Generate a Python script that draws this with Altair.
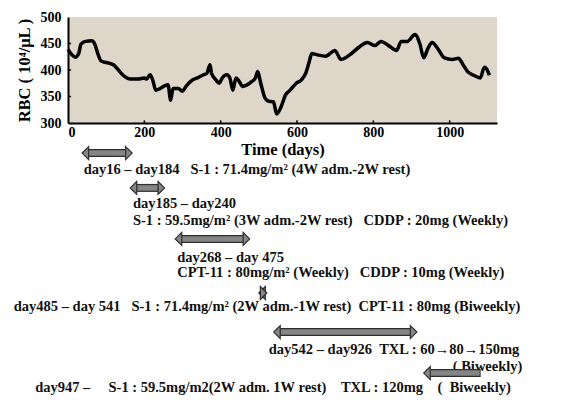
import altair as alt
import pandas as pd

# ---- RBC time series ----
days = [0, 10, 19, 28, 34, 46, 62, 70, 79, 87, 107, 119, 131, 143, 164, 184, 200, 206,
        215, 222, 230, 241, 253, 262, 269, 275, 289, 300, 309, 326, 339, 355, 364, 372,
        376, 388, 396, 404, 416, 424, 432, 440, 449, 457, 469, 481, 491, 497, 505, 517,
        526, 538, 547, 558, 570, 582, 598, 611, 623, 631, 639, 651, 675, 683, 699, 715,
        739, 764, 784, 804, 820, 840, 861, 873, 889, 909, 922, 932, 942, 954, 970, 986,
        1007, 1023, 1035, 1047, 1063, 1080, 1091, 1097, 1104]
rbc = [439, 429, 424, 431, 449, 454, 455, 449, 429, 417, 413, 410, 401, 391, 383, 383, 385, 383,
       391, 381, 362, 365, 370, 372, 343, 365, 365, 360, 369, 381, 385, 391, 394, 410,
       394, 381, 375, 385, 391, 385, 362, 385, 378, 369, 372, 378, 385, 397, 375, 346,
       341, 340, 317, 330, 353, 362, 375, 381, 394, 413, 431, 429, 426, 429, 437, 420,
       429, 444, 452, 446, 454, 446, 437, 454, 454, 467, 449, 423, 439, 452, 439, 423,
       420, 422, 410, 397, 390, 385, 405, 402, 390]

x_ticks = [0, 200, 400, 600, 800, 1000]
y_ticks = [300, 350, 400, 450, 500]
x_inner_ticks = [200, 400, 600, 800, 1000]
y_inner_ticks = [350, 400, 450]

NB = "\u00a0"
# ---- treatment annotations ----
ann_label = [
    "day16 \u2013 day184" + NB * 3 + "S-1 : 71.4mg/m\u00b2 (4W adm.-2W rest)",
    "day185 \u2013 day240",
    "S-1 : 59.5mg/m\u00b2 (3W adm.-2W rest)" + NB * 3 + "CDDP : 20mg (Weekly)",
    "day268 \u2013 day 475",
    "CPT-11 : 80mg/m\u00b2 (Weekly)" + NB * 3 + "CDDP : 10mg (Weekly)",
    "day485 \u2013 day 541" + NB * 3 + "S-1 : 71.4mg/m\u00b2 (2W adm.-1W rest)" + NB * 2 + "CPT-11 : 80mg (Biweekly)",
    "day542 \u2013 day926" + NB * 2 + "TXL : 60\u219280\u2192150mg",
    "( Biweekly)",
    "day947 \u2013" + NB * 5 + "S-1 : 59.5mg/m2(2W adm. 1W rest)" + NB * 4 + "TXL : 120mg" + NB * 4
    + "(" + NB * 2 + "Biweekly)",
]
ann_day = [41, 170, 170, 286, 286, -142, 526, 1008, -86]
ann_row = [1.71, 3.71, 4.71, 6.88, 7.76, 9.76, 12.29, 13.29, 14.53]

arrow_start = [37, 163, 281, 500, 539, 932]
arrow_end = [168, 253, 476, 521, 914, 1089]
arrow_row = [0.71, 2.76, 5.76, 8.94, 11.24, 13.65]
arrow_right_head = [True, True, True, True, True, False]

FONT = "Liberation Serif"
BEIGE = "#DDD6C9"
GRAY = "#858585"
DARK = "#2e2e2e"

line_df = pd.DataFrame({"day": days, "rbc": rbc})
xt_df = pd.DataFrame({"day": x_inner_ticks})
yt_df = pd.DataFrame({"rbc": y_inner_ticks})
text_df = pd.DataFrame({"day": ann_day, "row": ann_row, "label": ann_label})
arr_df = pd.DataFrame({"start": arrow_start, "end": arrow_end, "row": arrow_row,
                       "right": arrow_right_head})

x_dom = [0, 1124]
xs = alt.Scale(domain=x_dom, nice=False, zero=False)
ys = alt.Scale(domain=[300, 500], nice=False, zero=False)
x_axis = alt.Axis(values=x_ticks, tickCount=6, title="Time (days)", format="d",
                  labelPadding=2, titlePadding=2, labelOverlap=False, labelSeparation=0)
y_axis = alt.Axis(values=y_ticks, tickCount=5, title="RBC ( 10\u2074/\u03bcL )",
                  labelPadding=7, titlePadding=8, labelOverlap=False, labelSeparation=0)
X = alt.X("day:Q", scale=xs, axis=x_axis)
Y = alt.Y("rbc:Q", scale=ys, axis=y_axis)

line = alt.Chart(line_df).mark_line(
    color="black", strokeWidth=3.5, interpolate="monotone", strokeJoin="round"
).encode(x=X, y=Y)
xt = alt.Chart(xt_df).mark_rule(color="black", strokeWidth=1.5).encode(
    x=X, y=alt.datum(300), y2=alt.datum(305))
yt = alt.Chart(yt_df).mark_rule(color="black", strokeWidth=1.5).encode(
    y=Y, x=alt.datum(0), x2=alt.datum(8))

top = alt.layer(line, xt, yt).properties(
    width=429, height=106, view=alt.ViewBackground(fill=BEIGE, strokeWidth=0))

xs2 = alt.Scale(domain=x_dom, nice=False)
rs = alt.Scale(domain=[0, 15], reverse=True, nice=False)

texts = alt.Chart(text_df).mark_text(
    align="left", baseline="middle", font=FONT, fontWeight="bold", fontSize=14.5, color="#111111"
).encode(x=alt.X("day:Q", scale=xs2, axis=None), y=alt.Y("row:Q", scale=rs, axis=None),
         text="label:N")

arrow_base = alt.Chart(arr_df)
shaft_dark = arrow_base.mark_rule(color=DARK, strokeWidth=8, strokeCap="butt", xOffset=3, x2Offset=-3).encode(
    x=alt.X("start:Q", scale=xs2, axis=None), x2="end:Q", y=alt.Y("row:Q", scale=rs, axis=None))
shaft_gray = arrow_base.mark_rule(color=GRAY, strokeWidth=5.5, strokeCap="butt", xOffset=3, x2Offset=-4).encode(
    x=alt.X("start:Q", scale=xs2, axis=None), x2="end:Q", y=alt.Y("row:Q", scale=rs, axis=None))
left_head = arrow_base.mark_point(
    shape="M1,-1L0,0L1,1Z", filled=True, size=169, fill=GRAY, stroke=DARK, strokeWidth=1.2, opacity=1
).encode(x=alt.X("start:Q", scale=xs2, axis=None), y=alt.Y("row:Q", scale=rs, axis=None))
right_head = arrow_base.transform_filter("datum.right").mark_point(
    shape="M-1,-1L0,0L-1,1Z", filled=True, size=169, fill=GRAY, stroke=DARK, strokeWidth=1.2, opacity=1
).encode(x=alt.X("end:Q", scale=xs2, axis=None), y=alt.Y("row:Q", scale=rs, axis=None))

bottom = alt.layer(texts, shaft_dark, shaft_gray, left_head, right_head).properties(width=429, height=255)

chart = alt.vconcat(top, bottom, spacing=18, bounds="flush").resolve_scale(
    x="independent", y="independent"
).properties(
    padding={"left": 13, "top": 10, "right": 5, "bottom": 0}
).configure_view(strokeWidth=0).configure_axis(
    domainColor="black", domainWidth=2, ticks=False, grid=False,
    labelFont=FONT, labelFontWeight="bold", labelFontSize=14, labelColor="black",
    titleFont=FONT, titleFontWeight="bold", titleFontSize=16.5, titleColor="black",
)

chart.save("out.html", embed_options={"renderer": "svg", "actions": False})
